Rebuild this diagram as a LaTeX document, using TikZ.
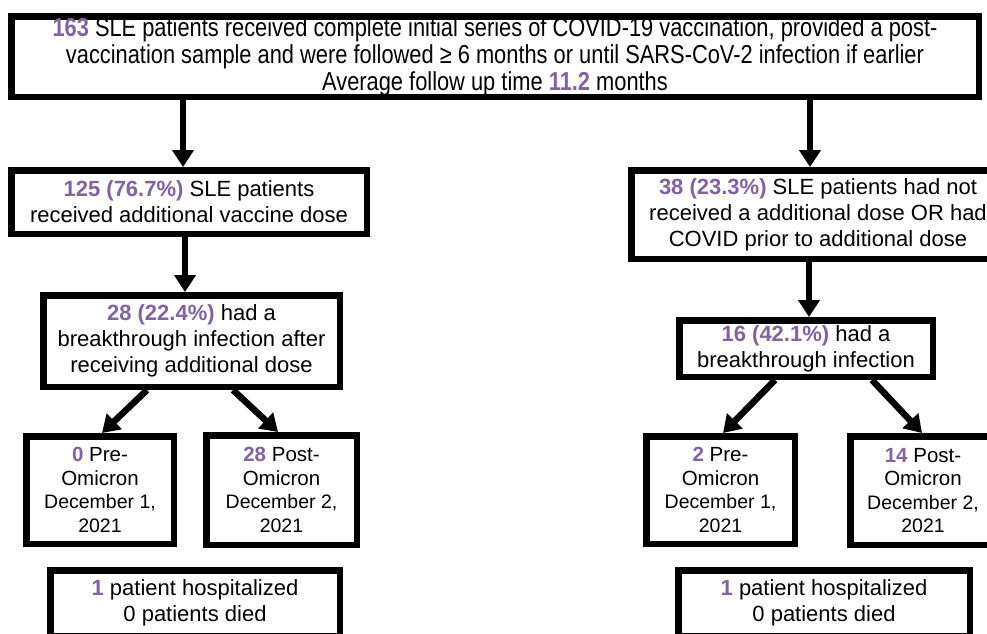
\documentclass[tikz,border=0pt]{standalone}
\usepackage{fontspec}
\setmainfont{Liberation Sans}
\newfontfamily\narrowfont{Liberation Sans}[FakeStretch=0.84]
\usetikzlibrary{positioning, arrows.meta}
\definecolor{num}{RGB}{128,100,162}
\newcommand{\numhl}[1]{\textbf{\color{num}#1}}
\newcommand{\datesize}{\fontsize{19.5}{21}\selectfont}

\begin{document}
\begin{tikzpicture}[x=1pt, y=1pt]

	\tikzstyle{box}=[draw=black, line width=6.5pt, fill=white, align=center, inner sep=0, font=\fontsize{22}{26}\selectfont];
	\tikzstyle{small}=[box, font=\fontsize{20.5}{23.5}\selectfont];
	\tikzstyle{arr}=[line width=6.5pt, -{Triangle[length=17pt, width=21pt]}];

	\useasboundingbox (0,0) rectangle (987,-633);

	\node (top) [box, anchor=north west, minimum width=967.5pt, minimum height=80.5pt, font=\narrowfont\fontsize{26}{27}\selectfont] at (8,-13) {\numhl{163} SLE patients received complete initial series of COVID-19 vaccination, provided a post-\\vaccination sample and were followed ≥ 6 months or until SARS-CoV-2 infection if earlier\\Average follow up time \numhl{11.2} months};

	% additional dose branch
	\node (add) [box, minimum width=355.5pt, minimum height=63.5pt, below right=67pt and 0pt of top.south west] {\numhl{125 (76.7\%)} SLE patients\\received additional vaccine dose};
	\node (add inf) [box, minimum width=296.5pt, minimum height=91.5pt, below right=55pt and 32pt of add.south west] {\numhl{28 (22.4\%)} had a\\breakthrough infection after\\receiving additional dose};
	\node (add pre) [small, minimum width=147.5pt, minimum height=107.5pt, below right=43pt and -17pt of add inf.south west] {\numhl{0} Pre-\\Omicron\\{\datesize December 1,}\\{\datesize 2021}};
	\node (add post) [small, minimum width=150.5pt, minimum height=109.5pt, below left=42pt and -17pt of add inf.south east] {\numhl{28} Post-\\Omicron\\{\datesize December 2,}\\{\datesize 2021}};
	\node (add out) [box, minimum width=289.5pt, minimum height=65.5pt, below right=20pt and 24pt of add pre.south west] {\numhl{1} patient hospitalized\\0 patients died};

	% no additional dose branch
	\node (no) [box, minimum width=373.5pt, minimum height=88.5pt, below left=67pt and -26pt of top.south east] {\numhl{38 (23.3\%)} SLE patients had not\\received a additional dose OR had\\COVID prior to additional dose};
	\node (no inf) [box, minimum width=253.5pt, minimum height=56.5pt, below right=55pt and 48pt of no.south west] {\numhl{16 (42.1\%)} had a\\breakthrough infection};
	\node (no pre) [small, minimum width=148.5pt, minimum height=107.5pt, below right=53pt and -33pt of no inf.south west] {\numhl{2} Pre-\\Omicron\\{\datesize December 1,}\\{\datesize 2021}};
	\node (no post) [small, minimum width=145.5pt, minimum height=108.5pt, below left=53pt and -63pt of no inf.south east] {\numhl{14} Post-\\Omicron\\{\datesize December 2,}\\{\datesize 2021}};
	\node (no out) [box, minimum width=291.5pt, minimum height=65.5pt, below right=20pt and 32pt of no pre.south west] {\numhl{1} patient hospitalized\\0 patients died};

	\draw [arr] ([xshift=-6pt]add.north |- top.south) -- ([xshift=-6pt]add.north);
	\draw [arr] ([xshift=-8pt]no.north |- top.south) -- ([xshift=-8pt]no.north);
	\draw [arr] ([xshift=-6.5pt]add inf.north |- add.south) -- ([xshift=-6.5pt]add inf.north);
	\draw [arr] ([xshift=3pt]no inf.north |- no.south) -- ([xshift=3pt]no inf.north);
	\draw [arr] ([xshift=-44.5pt]add inf.south) -- ([xshift=2pt]add pre.north);
	\draw [arr] ([xshift=41.5pt]add inf.south) -- ([xshift=-3.5pt]add post.north);
	\draw [arr] ([xshift=-31pt]no inf.south) -- ([xshift=2.5pt]no pre.north);
	\draw [arr] ([xshift=66pt]no inf.south) -- ([xshift=-1pt]no post.north);

\end{tikzpicture}
\end{document}
